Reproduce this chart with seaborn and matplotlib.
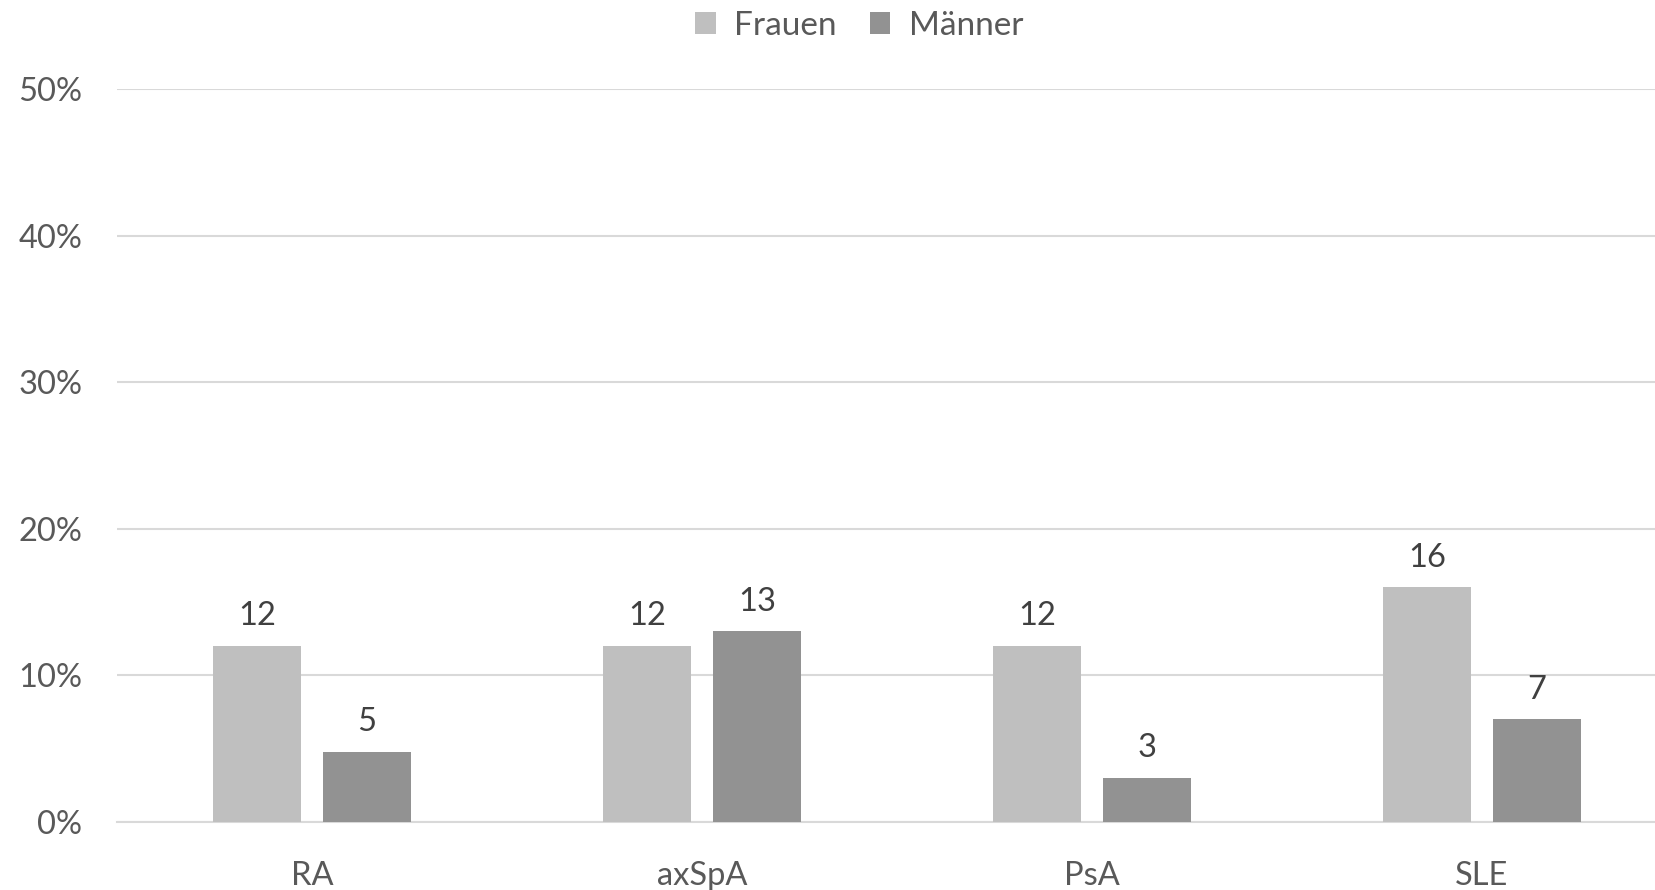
import matplotlib
matplotlib.use("Agg")
import matplotlib.pyplot as plt
import seaborn as sns
import pandas as pd

categories = ["RA", "axSpA", "PsA", "SLE"]
groups = ["Frauen", "Männer"]
frauen = [12, 12, 12, 16]
maenner = [4.8, 13, 3, 7]
frauen_labels = ["12", "12", "12", "16"]
maenner_labels = ["5", "13", "3", "7"]
yticks = [0, 10, 20, 30, 40, 50]

df = pd.DataFrame({
    "Erkrankung": categories * 2,
    "Geschlecht": [groups[0]] * len(categories) + [groups[1]] * len(categories),
    "Anteil": frauen + maenner,
})

sns.set_theme(style="white")
plt.rcParams["font.family"] = ["Lato", "DejaVu Sans"]

W, H = 1655, 890
fig = plt.figure(figsize=(W / 100, H / 100), dpi=100)
left, right, top, bottom = 117, 1677, 89, 822
ax = fig.add_axes([left / W, (H - bottom) / H, (right - left) / W, (bottom - top) / H])

colors = ["#BFBFBF", "#929292"]
sns.barplot(data=df, x="Erkrankung", y="Anteil", hue="Geschlecht",
            palette=colors, width=0.564, gap=0.2, ax=ax, saturation=1,
            legend=True, edgecolor="none", linewidth=0, zorder=3)

ax.set_ylim(0, 50)
ax.set_xlim(-0.5, 3.5)
ax.set_yticks(yticks)
ax.set_yticklabels([f"{v}%" for v in yticks])
ax.set_xlabel("")
ax.set_ylabel("")
fs = 23.5
ax.tick_params(axis="y", length=0, pad=25, labelsize=fs, labelcolor="#595959")
ax.tick_params(axis="x", length=0, pad=28, labelsize=fs, labelcolor="#595959")
ax.grid(axis="y", color="#D9D9D9", linewidth=1.5, zorder=0)
ax.grid(axis="x", visible=False)
for s in ["left", "right", "top"]:
    ax.spines[s].set_visible(False)
ax.spines["bottom"].set_color("#D9D9D9")
ax.spines["bottom"].set_linewidth(1.5)

for cont, labs in zip(ax.containers, [frauen_labels, maenner_labels]):
    ax.bar_label(cont, labels=labs, padding=10.5, fontsize=fs, color="#404040")

handles, labels = ax.get_legend_handles_labels()
ax.get_legend().remove()
fig.legend(handles, labels, loc="center", bbox_to_anchor=(859 / W, 1 - 26 / H),
           ncol=2, frameon=False, fontsize=24, labelcolor="#595959",
           handlelength=0.62, handleheight=0.62, handletextpad=0.55,
           columnspacing=1.0, borderpad=0)

fig.savefig("out.png", dpi=100, facecolor="white")
